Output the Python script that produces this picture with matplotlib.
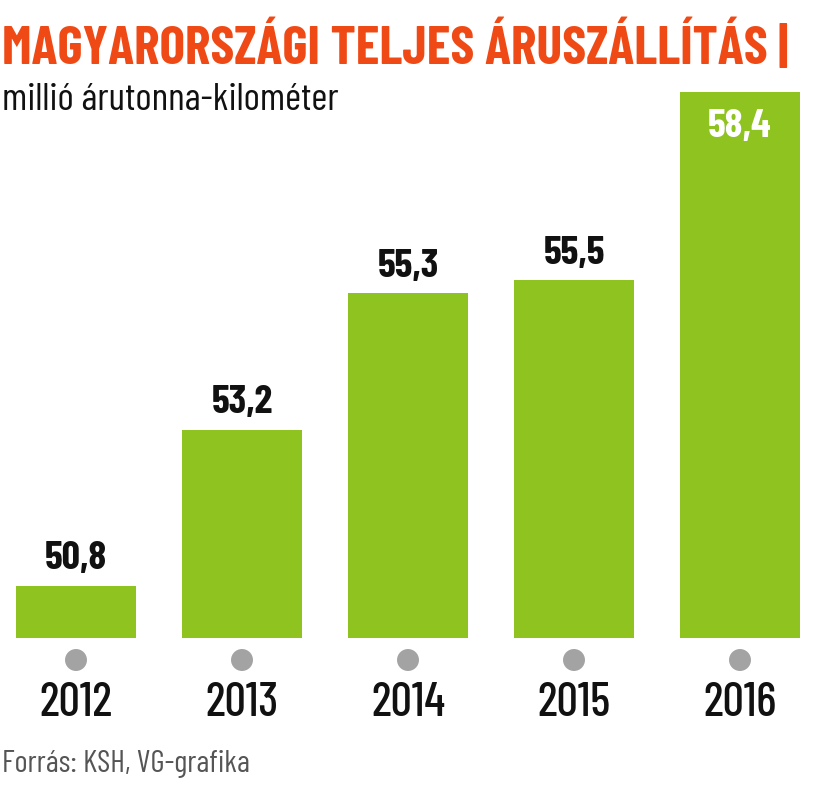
import matplotlib
matplotlib.use("Agg")
import matplotlib.pyplot as plt
from matplotlib import font_manager


# ==========================================================
# Data
# ==========================================================

years = ["2012", "2013", "2014", "2015", "2016"]

values = [50.8, 53.2, 55.3, 55.5, 58.4]

value_labels = ["50,8", "53,2", "55,3", "55,5", "58,4"]

title = "MAGYARORSZÁGI TELJES ÁRUSZÁLLÍTÁS |"
subtitle = "millió árutonna-kilométer"
source = "Forrás: KSH, VG-grafika"


# ==========================================================
# Style
# ==========================================================

GREEN = "#8fc31f"
ORANGE = "#ef4a16"
DOT = "#a3a3a3"

names = {f.name for f in font_manager.fontManager.ttflist}
FONT = "Barlow Condensed" if "Barlow Condensed" in names else "Liberation Sans"
plt.rcParams["font.family"] = [FONT, "DejaVu Sans"]

W, H = 818, 791


def fx(px):
    return px / W


def fy(py):
    return 1 - py / H


def fit_width(fig, txt, target_px):
    # shrink a text so it spans about target_px wide
    renderer = fig.canvas.get_renderer()
    width = txt.get_window_extent(renderer).width
    if width > target_px:
        txt.set_fontsize(txt.get_fontsize() * target_px / width)


# ==========================================================
# Figure
# ==========================================================

fig = plt.figure(figsize=(W / 100, H / 100), dpi=100)

pitch = 166
first = 76
ax = fig.add_axes([0, fy(638), 1, (638 - 92) / H])
ax.set_xlim(-first / pitch, (W - first) / pitch)
ax.set_ylim(50.0, 58.4)
ax.axis("off")

xs = list(range(len(years)))
ax.bar(xs, [v - 50.0 for v in values], bottom=50.0, width=120 / pitch,
       color=GREEN, edgecolor="none")

for i, (v, lab) in enumerate(zip(values, value_labels)):
    if i == len(values) - 1:
        ax.annotate(lab, (i, v), xytext=(0, -12), textcoords="offset points",
                    ha="center", va="top", fontsize=29, fontweight="bold",
                    color="white")
    else:
        ax.annotate(lab, (i, v), xytext=(0, 7), textcoords="offset points",
                    ha="center", va="bottom", fontsize=29, fontweight="bold",
                    color="#111111")

# grey dots under the bars
dot_ax = fig.add_axes([0, fy(672), 1, (672 - 648) / H])
dot_ax.set_xlim(ax.get_xlim())
dot_ax.set_ylim(0, 1)
dot_ax.axis("off")
dot_ax.scatter(xs, [0.5] * len(xs), s=250, color=DOT, edgecolors="none")

for i, y in enumerate(years):
    fig.text(fx(first + i * pitch), fy(703), y, ha="center", va="center",
             fontsize=34, fontweight="medium", color="#111111")

title_txt = fig.text(fx(2), fy(48), title, ha="left", va="center",
                     fontsize=42, fontweight="bold", color=ORANGE)
fit_width(fig, title_txt, 786)

fig.text(fx(2), fy(100), subtitle, ha="left", va="center", fontsize=28,
         color="#111111")
fig.text(fx(2), fy(764), source, ha="left", va="center", fontsize=22.5,
         color="#555555")

fig.savefig("out.png", dpi=100)
